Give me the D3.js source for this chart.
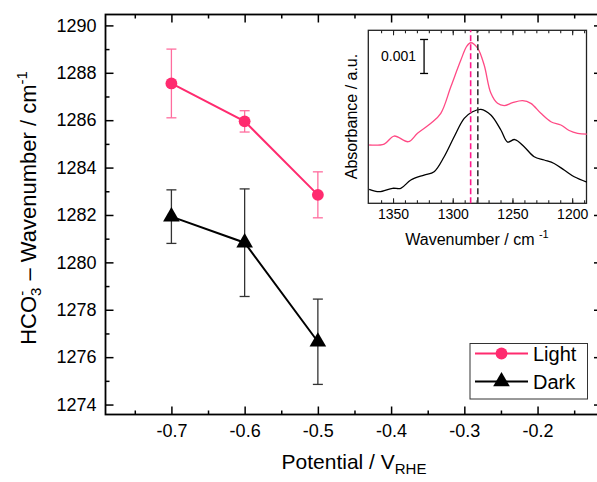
<!DOCTYPE html>
<html>
<head>
<meta charset="utf-8">
<script src="https://cdn.jsdelivr.net/npm/d3@7"></script>
<style>
  body { margin: 0; background: #fff; }
  svg { display: block; font-family: "Liberation Sans", Arial, sans-serif; }
</style>
</head>
<body>
<div class="chart"></div>
<script>
// main plot data
const potentials = [-0.7, -0.6, -0.5];
const lightWn = [1287.55, 1285.95, 1282.85];
const lightErr = [1.45, 0.45, 0.97];
const darkWn = [1281.93, 1280.83, 1276.65];
const darkErr = [1.13, 2.27, 1.8];

// inset spectra (wavenumber / cm-1, absorbance in 1e-3 a.u.)
const lightSpecWn = [1370, 1357.4, 1349.1, 1337.2, 1329.5, 1318.3, 1310, 1301.6, 1293.2, 1288.2, 1284.9, 1279.2, 1273.7, 1268.1, 1262.5, 1256.9, 1249.9, 1241.5, 1234.6, 1226.2, 1217.8, 1209.5, 1202.5, 1195.5, 1187.7];
const lightSpecAbs = [1.715, 1.744, 1.979, 1.812, 2.059, 2.353, 2.647, 3.429, 4.215, 4.626, 4.724, 4.568, 4.068, 3.244, 2.941, 2.876, 2.959, 3.018, 2.941, 2.647, 2.4, 2.303, 2.141, 2.059, 2.038];
const darkSpecWn = [1370, 1361.6, 1350.4, 1343.5, 1335.1, 1324, 1315.6, 1307.2, 1298.8, 1290.4, 1283.4, 1276.4, 1268.1, 1259.7, 1254.1, 1248, 1240.2, 1231.8, 1223.4, 1215.1, 1206.7, 1198.3, 1187.7];
const darkSpecAbs = [0.412, 0.341, 0.441, 0.441, 0.685, 0.832, 0.929, 1.371, 1.959, 2.5, 2.694, 2.765, 2.597, 2.156, 1.803, 1.876, 1.665, 1.371, 1.274, 1.171, 0.979, 0.782, 0.626];
const peakLight = 1285;
const peakDark = 1279;
const xTicks = [-0.7, -0.6, -0.5, -0.4, -0.3, -0.2];
const yTicks = [1274, 1276, 1278, 1280, 1282, 1284, 1286, 1288, 1290];
const insetTicks = [1350, 1300, 1250, 1200];

const pink = "#ff2b6f";
const W = 597, H = 482;

const svg = d3.select(".chart").append("svg")
    .attr("width", W)
    .attr("height", H);

const xScale = d3.scaleLinear().domain([-0.79, -0.112]).range([105.5, 602]);
const yScale = d3.scaleLinear().domain([1273.58, 1290.46]).range([414.5, 14.5]);

const minorX = d3.range(-0.75, -0.1, 0.1);
const minorY = d3.range(1275, 1290, 2);

function addAxis(axis, tx, ty, labels) {
    const g = svg.append("g")
        .attr("transform", `translate(${tx},${ty})`)
        .call(axis);
    g.select(".domain").remove();
    g.selectAll("line").attr("stroke", "#000").attr("stroke-width", 1.5);
    g.selectAll("text").attr("font-size", 18).attr("fill", "#000")
        .attr("font-family", "Liberation Sans, Arial, sans-serif");
    if (!labels) g.selectAll("text").remove();
    return g;
}

// bottom / top
addAxis(d3.axisBottom(xScale).tickValues(xTicks).tickSize(-8).tickPadding(10).tickFormat(d => d.toFixed(1)), 0, 414.5, true);
addAxis(d3.axisBottom(xScale).tickValues(minorX).tickSize(-4).tickFormat(""), 0, 414.5, false);
addAxis(d3.axisTop(xScale).tickValues(xTicks).tickSize(-8).tickFormat(""), 0, 14.5, false);
addAxis(d3.axisTop(xScale).tickValues(minorX).tickSize(-4).tickFormat(""), 0, 14.5, false);
// left / right
addAxis(d3.axisLeft(yScale).tickValues(yTicks).tickSize(-8).tickPadding(9).tickFormat(d3.format("d")), 105.5, 0, true);
addAxis(d3.axisLeft(yScale).tickValues(minorY).tickSize(-4).tickFormat(""), 105.5, 0, false);
addAxis(d3.axisRight(yScale).tickValues(yTicks).tickSize(-8).tickFormat(""), 602, 0, false);
addAxis(d3.axisRight(yScale).tickValues(minorY).tickSize(-4).tickFormat(""), 602, 0, false);

svg.append("rect")
    .attr("x", 105.5).attr("y", 14.5)
    .attr("width", 602 - 105.5).attr("height", 400)
    .attr("fill", "none").attr("stroke", "#000").attr("stroke-width", 1.8);

// axis titles
svg.append("text")
    .attr("x", 354).attr("y", 469)
    .attr("text-anchor", "middle")
    .attr("font-size", 21)
    .html('Potential / V<tspan font-size="15" dy="5">RHE</tspan>');

svg.append("text")
    .attr("transform", "rotate(-90)")
    .attr("x", -208).attr("y", 36)
    .attr("text-anchor", "middle")
    .attr("font-size", 22)
    .html('HCO<tspan font-size="15" dy="5">3</tspan><tspan font-size="15" dx="-8" dy="-14">-</tspan><tspan dx="4" dy="9"> – Wavenumber / cm</tspan><tspan font-size="15" dy="-9">-1</tspan>');

// data series
const light = potentials.map((p, i) => ({x: p, y: lightWn[i], e: lightErr[i]}));
const dark = potentials.map((p, i) => ({x: p, y: darkWn[i], e: darkErr[i]}));

function errorBars(data, color) {
    const g = svg.append("g").attr("stroke", color).attr("stroke-width", 1.3);
    data.forEach(d => {
        const x = xScale(d.x);
        g.append("line").attr("x1", x).attr("x2", x)
            .attr("y1", yScale(d.y - d.e)).attr("y2", yScale(d.y + d.e));
        [d.y - d.e, d.y + d.e].forEach(v => {
            g.append("line").attr("x1", x - 5).attr("x2", x + 5)
                .attr("y1", yScale(v)).attr("y2", yScale(v));
        });
    });
}
errorBars(light, "#ff6d9e");
errorBars(dark, "#333");

const line = d3.line().x(d => xScale(d.x)).y(d => yScale(d.y));
svg.append("path").datum(light).attr("d", line)
    .attr("fill", "none").attr("stroke", pink).attr("stroke-width", 2);
svg.append("path").datum(dark).attr("d", line)
    .attr("fill", "none").attr("stroke", "#000").attr("stroke-width", 2);

const circle = d3.symbol().type(d3.symbolCircle).size(110);
const tri = d3.symbol().type(d3.symbolTriangle).size(120);
svg.selectAll(".ml").data(light).join("path")
    .attr("transform", d => `translate(${xScale(d.x)},${yScale(d.y)})`)
    .attr("d", circle).attr("fill", pink);
svg.selectAll(".md").data(dark).join("path")
    .attr("transform", d => `translate(${xScale(d.x)},${yScale(d.y)})`)
    .attr("d", tri).attr("fill", "#000");

// legend
const leg = svg.append("g");
leg.append("rect").attr("x", 470).attr("y", 343.5).attr("width", 117.5).attr("height", 55.5)
    .attr("fill", "#fff").attr("stroke", "#333").attr("stroke-width", 1);
[["Light", pink, circle, 353.5], ["Dark", "#000", tri, 381.5]].forEach(([name, c, sym, y]) => {
    leg.append("line").attr("x1", 475).attr("x2", 528).attr("y1", y).attr("y2", y)
        .attr("stroke", c).attr("stroke-width", 2);
    leg.append("path").attr("transform", `translate(501.5,${y})`).attr("d", sym).attr("fill", c);
    leg.append("text").attr("x", 533).attr("y", y + 7).attr("font-size", 20).text(name);
});

// inset
const inset = svg.append("g");
const ix = d3.scaleLinear().domain([1370.7, 1188]).range([368.3, 586.5]);
const iy = d3.scaleLinear().domain([0, 5.09]).range([203.3, 30.3]);

inset.append("rect").attr("x", 368.3).attr("y", 30.3)
    .attr("width", 586.5 - 368.3).attr("height", 173)
    .attr("fill", "#fff").attr("stroke", "#222").attr("stroke-width", 1.3);

const iMinor = d3.range(1360, 1189, -10);
function insetAxis(axis, ty, labels) {
    const g = inset.append("g").attr("transform", `translate(0,${ty})`).call(axis);
    g.select(".domain").remove();
    g.selectAll("line").attr("stroke", "#222").attr("stroke-width", 1.1);
    g.selectAll("text").attr("font-size", 14).attr("fill", "#000")
        .attr("font-family", "Liberation Sans, Arial, sans-serif");
    if (!labels) g.selectAll("text").remove();
}
insetAxis(d3.axisBottom(ix).tickValues(insetTicks).tickSize(-5).tickPadding(6).tickFormat(d3.format("d")), 203.3, true);
insetAxis(d3.axisBottom(ix).tickValues(iMinor).tickSize(-3).tickFormat(""), 203.3, false);
insetAxis(d3.axisTop(ix).tickValues(insetTicks).tickSize(-5).tickFormat(""), 30.3, false);
insetAxis(d3.axisTop(ix).tickValues(iMinor).tickSize(-3).tickFormat(""), 30.3, false);

const specLine = d3.line().x(d => ix(d[0])).y(d => iy(d[1])).curve(d3.curveCatmullRom);
inset.append("path").datum(d3.zip(lightSpecWn, lightSpecAbs)).attr("d", specLine)
    .attr("fill", "none").attr("stroke", "#ff4a85").attr("stroke-width", 1.3);
inset.append("path").datum(d3.zip(darkSpecWn, darkSpecAbs)).attr("d", specLine)
    .attr("fill", "none").attr("stroke", "#000").attr("stroke-width", 1.3);

[[peakLight, "#ff1a8c"], [peakDark, "#333"]].forEach(([w, c]) => {
    inset.append("line").attr("x1", ix(w)).attr("x2", ix(w))
        .attr("y1", 203.3).attr("y2", 30.3)
        .attr("stroke", c).attr("stroke-width", 1.6).attr("stroke-dasharray", "6,3");
});

// scale bar 0.001
const sbx = ix(1324);
inset.append("line").attr("x1", sbx).attr("x2", sbx).attr("y1", iy(4.82)).attr("y2", iy(3.82))
    .attr("stroke", "#000").attr("stroke-width", 1.3);
[4.82, 3.82].forEach(v => inset.append("line").attr("x1", sbx - 4).attr("x2", sbx + 4)
    .attr("y1", iy(v)).attr("y2", iy(v)).attr("stroke", "#000").attr("stroke-width", 1.3));
inset.append("text").attr("x", sbx - 8).attr("y", iy(4.32) + 5)
    .attr("text-anchor", "end").attr("font-size", 14).text("0.001");

inset.append("text").attr("x", 477).attr("y", 245)
    .attr("text-anchor", "middle").attr("font-size", 16)
    .html('Wavenumber / cm <tspan font-size="11" dy="-7">-1</tspan>');
inset.append("text").attr("transform", "rotate(-90)")
    .attr("x", -116.5).attr("y", 357)
    .attr("text-anchor", "middle").attr("font-size", 16)
    .text("Absorbance / a.u.");
</script>
</body>
</html>
